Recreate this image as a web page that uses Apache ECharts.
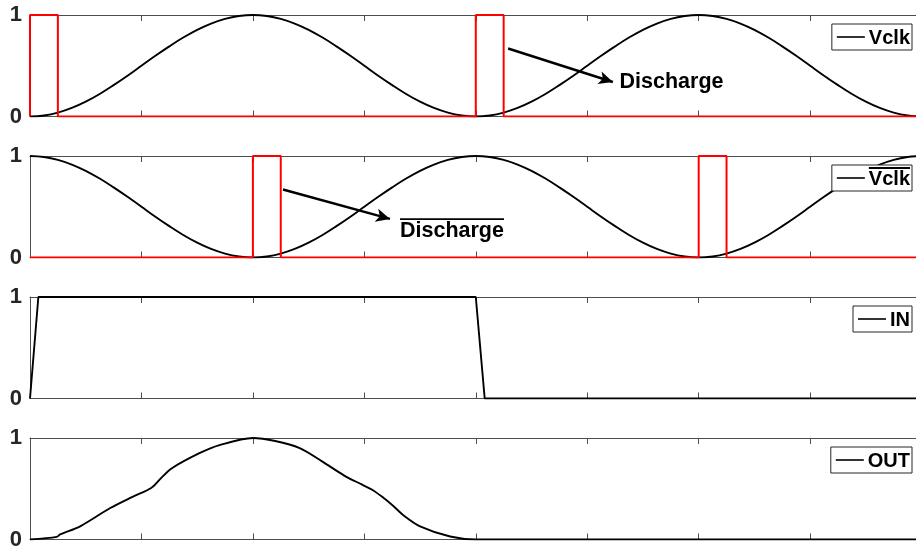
<!DOCTYPE html>
<html><head><meta charset="utf-8">
<script src="https://cdn.jsdelivr.net/npm/echarts@6/dist/echarts.min.js"></script>
<style>html,body{margin:0;padding:0;background:#fff}#c{width:916px;height:553px}</style>
</head><body><div id="c"></div>
<script>
// ---- data ----
const clkT = [0,0.125,0.25,0.375,0.5,0.625,0.75,0.875,1,1.125,1.25,1.375,1.5,1.625,1.75,1.875,2,2.125,2.25,2.375,2.5,2.625,2.75,2.875,3,3.125,3.25,3.375,3.5,3.625,3.75,3.875,
  4,4.125,4.25,4.375,4.5,4.625,4.75,4.875,5,5.125,5.25,5.375,5.5,5.625,5.75,5.875,6,6.125,6.25,6.375,6.5,6.625,6.75,6.875,7,7.125,7.25,7.375,7.5,7.625,7.75,7.875,8];
const vclk = [0,0.010,0.038,0.084,0.146,0.222,0.309,0.402,0.5,0.598,0.691,0.778,0.854,0.916,0.962,0.990,1,0.990,0.962,0.916,0.854,0.778,0.691,0.598,0.5,0.402,0.309,0.222,0.146,0.084,0.038,0.010,
  0,0.010,0.038,0.084,0.146,0.222,0.309,0.402,0.5,0.598,0.691,0.778,0.854,0.916,0.962,0.990,1,0.990,0.962,0.916,0.854,0.778,0.691,0.598,0.5,0.402,0.309,0.222,0.146,0.084,0.038,0.010,0];
const vclkBar = [1,0.990,0.962,0.916,0.854,0.778,0.691,0.598,0.5,0.402,0.309,0.222,0.146,0.084,0.038,0.010,0,0.010,0.038,0.084,0.146,0.222,0.309,0.402,0.5,0.598,0.691,0.778,0.854,0.916,0.962,0.990,
  1,0.990,0.962,0.916,0.854,0.778,0.691,0.598,0.5,0.402,0.309,0.222,0.146,0.084,0.038,0.010,0,0.010,0.038,0.084,0.146,0.222,0.309,0.402,0.5,0.598,0.691,0.778,0.854,0.916,0.962,0.990,1];
const pulseT = [0,0,0.25,0.25,4,4,4.25,4.25,8];
const pulseV = [0,1,1,0,0,1,1,0,0];
const pulseBarT = [0,2,2,2.25,2.25,6,6,6.25,6.25,8];
const pulseBarV = [0,0,1,1,0,0,1,1,0,0];
const inT = [0,0.075,4,4.08,8];
const inV = [0,1,1,0,0];
const outT = [0,0.24,0.27,0.45,0.72,0.92,1.09,1.18,1.27,1.52,1.70,2.0,2.2,2.42,2.62,2.82,2.98,3.07,3.16,3.26,3.35,3.5,3.77,4.0,8];
const outV = [0,0.026,0.05,0.13,0.31,0.42,0.51,0.61,0.70,0.85,0.93,1.0,0.97,0.90,0.77,0.63,0.54,0.49,0.42,0.33,0.24,0.13,0.03,0,0];
const yTickLabels = ['0','1'];
const legendTexts = ['Vclk','Vclk','IN','OUT'];
const legendOverline = [false,true,false,false];
const annoText = 'Discharge';
// arrows & label anchors (data coordinates)
const arrow1 = [[4.29,0.67],[5.23,0.34]];
const arrow2 = [[2.27,0.67],[3.23,0.38]];
const label1 = [5.29,0.34];
const label2 = [3.32,0.26];

const pairs = (xs, ys) => xs.map((x,i)=>[x, ys[i]]);

// ---- layout ----
const tops = [15,156,297,438];
const H = 101.5;
const FONT = '"Liberation Sans", Arial, sans-serif';
const axisCol = '#4d4d4d';
const X_MAX = 7.95;

const grids = tops.map(t => ({left:30, right:0, top:t, height:H}));
const xAxes = [];
const yAxes = [];
tops.forEach((t,i) => {
  xAxes.push({type:'value', gridIndex:i, min:0, max:X_MAX, interval:1, position:'bottom',
    axisLine:{show:true, lineStyle:{color:axisCol, width:1}},
    axisTick:{show:true, inside:true, length:6, lineStyle:{color:axisCol}},
    axisLabel:{show:false}, splitLine:{show:false}});
  xAxes.push({type:'value', gridIndex:i, min:0, max:X_MAX, interval:1, position:'top',
    axisLine:{show:true, onZero:false, lineStyle:{color:axisCol, width:1}},
    axisTick:{show:true, inside:true, length:6, lineStyle:{color:axisCol}},
    axisLabel:{show:false}, splitLine:{show:false}});
  yAxes.push({type:'value', gridIndex:i, min:0, max:1, interval:1,
    axisLine:{show:true, lineStyle:{color:axisCol, width:1}},
    axisTick:{show:false},
    axisLabel:{show:true, margin:8, fontSize:22, fontWeight:'bold', fontFamily:FONT, color:'#262626',
      formatter: v => yTickLabels[Math.round(v)]},
    splitLine:{show:false}});
});

const blackLine = (name, data, gi, smooth) => ({
  type:'line', name, data, xAxisIndex:gi*2, yAxisIndex:gi, symbol:'none', smooth,
  lineStyle:{color:'#000', width:1.9}, itemStyle:{color:'#000'}, z:3, animation:false
});
const arrowML = (a) => ({silent:true, symbol:['none','arrow'], symbolSize:[10,14], animation:false,
  lineStyle:{color:'#000', width:2.4, type:'solid'}, label:{show:false},
  data:[[{coord:a[0]},{coord:a[1]}]]});
const redLine = (name, data, gi, ml) => ({
  type:'line', name, data, xAxisIndex:gi*2, yAxisIndex:gi, symbol:'none',
  lineStyle:{color:'#ff0000', width:2}, z:4, animation:false, markLine: ml
});

const series = [
  blackLine('Vclk', pairs(clkT, vclk), 0, 0.4),
  redLine('pulse', pairs(pulseT, pulseV), 0, arrowML(arrow1)),
  blackLine('VclkBar', pairs(clkT, vclkBar), 1, 0.4),
  redLine('pulseBar', pairs(pulseBarT, pulseBarV), 1, arrowML(arrow2)),
  blackLine('IN', pairs(inT, inV), 2, false),
  blackLine('OUT', pairs(outT, outV), 3, 0.3)
];

const chart = echarts.init(document.getElementById('c'), null, {renderer:'canvas'});
chart.setOption({animation:false, grid:grids, xAxis:xAxes, yAxis:yAxes, series});

// annotations and legend boxes
const p1 = chart.convertToPixel({gridIndex:0}, label1);
const p2 = chart.convertToPixel({gridIndex:1}, label2);
const ctx = document.createElement('canvas').getContext('2d');
ctx.font = 'bold 21.5px ' + FONT;
const w2 = ctx.measureText(annoText).width;
ctx.font = 'bold 20px ' + FONT;
const g = [
  {type:'text', x:p1[0], y:p1[1], style:{text:annoText, fontSize:21.5, fontWeight:'bold', fontFamily:FONT, fill:'#000', verticalAlign:'middle'}},
  {type:'text', x:p2[0], y:p2[1], style:{text:annoText, fontSize:21.5, fontWeight:'bold', fontFamily:FONT, fill:'#000', verticalAlign:'middle'}},
  {type:'line', shape:{x1:p2[0], y1:p2[1]-12, x2:p2[0]+w2, y2:p2[1]-12}, style:{stroke:'#000', lineWidth:1.8}}
];
const boxRight = 912, boxH = 26;
tops.forEach((t,i) => {
  const by = t + 9;
  const tw = ctx.measureText(legendTexts[i]).width;
  const textRight = boxRight - 2;
  const textLeft = textRight - tw;
  const lineR = textLeft - 4, lineL = lineR - 28;
  const boxL = lineL - 5;
  const cy = by + boxH/2;
  g.push({type:'rect', shape:{x:boxL, y:by, width:boxRight-boxL, height:boxH}, style:{fill:'#fff', stroke:'#262626', lineWidth:1}, z:50});
  g.push({type:'line', shape:{x1:lineL, y1:cy, x2:lineR, y2:cy}, style:{stroke:'#000', lineWidth:1.6}, z:51});
  g.push({type:'text', x:textLeft, y:cy+1, style:{text:legendTexts[i], fontSize:20, fontWeight:'bold', fontFamily:FONT, fill:'#000', verticalAlign:'middle'}, z:51});
  if (legendOverline[i]) g.push({type:'line', shape:{x1:textLeft, y1:by+3, x2:textRight, y2:by+3}, style:{stroke:'#000', lineWidth:1.8}, z:52});
});
chart.setOption({graphic:g});
</script>
</body></html>
